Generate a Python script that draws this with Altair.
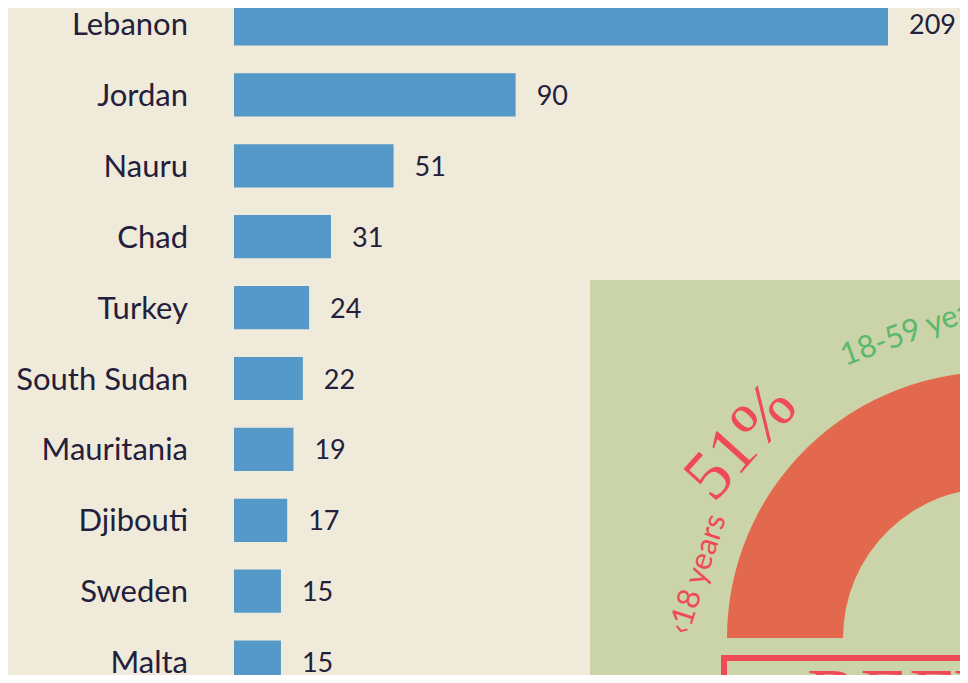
import altair as alt
import pandas as pd

# ---- data ----
countries = ["Lebanon", "Jordan", "Nauru", "Chad", "Turkey",
             "South Sudan", "Mauritania", "Djibouti", "Sweden", "Malta"]
refugees = [209, 90, 51, 31, 24, 22, 19, 17, 15, 15]

age_groups = ["‹18 years"]
age_shares = [51]
age_share_label = ["51%"]
second_group_label = ["18-59 years"]
headline = ["REFUGEES"]

# ---- styling ----
W, H = 952, 667
BG = "#F0EADB"
BAR = "#5499C8"
INK = "#22203A"
PANEL = "#CBD4A9"
ARC = "#E3694E"
RED = "#EE4B57"
GREEN = "#5CB86D"

bars_df = pd.DataFrame({"country": countries, "value": refugees})

x_scale = alt.Scale(domain=[0, 209], range=[226, 880], nice=False, zero=True)
y_scale = alt.Scale(domain=countries, range=[-19.45, 689.55],
                    paddingInner=0.39, paddingOuter=0.195)

base = alt.Chart(bars_df)

bars = base.mark_bar(color=BAR).encode(
    x=alt.X("value:Q", scale=x_scale, axis=None),
    y=alt.Y("country:N", scale=y_scale, axis=None, sort=countries),
)

names = base.mark_text(align="right", baseline="middle", font="Lato",
                       fontSize=31, color=INK, dy=2).encode(
    x=alt.value(180),
    y=alt.Y("country:N", scale=y_scale, axis=None, sort=countries),
    text="country:N",
)

vals = base.mark_text(align="left", baseline="middle", font="Lato",
                      fontSize=27, color=INK, dx=21, dy=2).encode(
    x=alt.X("value:Q", scale=x_scale, axis=None),
    y=alt.Y("country:N", scale=y_scale, axis=None, sort=countries),
    text="value:Q",
)

panel = alt.Chart(alt.Data(values=[{}])).mark_rect(color=PANEL).encode(
    x=alt.value(582), x2=alt.value(1000), y=alt.value(272), y2=alt.value(720)
)

age_df = pd.DataFrame({"group": age_groups, "share": age_shares})
arc = alt.Chart(age_df).mark_arc(color=ARC, radius=266, radius2=150).encode(
    theta=alt.Theta("share:Q", stack=True,
                    scale=alt.Scale(domain=[0, 100], range=[4.71239, 7.85398])),
    x=alt.value(985), y=alt.value(630),
)

lbl_young = alt.Chart(age_df).mark_text(
    align="left", baseline="alphabetic", font="Lato", fontSize=31,
    color=RED, angle=288).encode(
    x=alt.value(680), y=alt.value(628), text="group:N")

lbl_pct = alt.Chart(pd.DataFrame({"t": age_share_label})).mark_text(
    align="center", baseline="middle", font="Liberation Serif", fontSize=70,
    color=RED, angle=312).encode(
    x=alt.value(733), y=alt.value(434), text="t:N")

lbl_mid = alt.Chart(pd.DataFrame({"t": second_group_label})).mark_text(
    align="left", baseline="alphabetic", font="Lato", fontSize=31,
    color=GREEN, angle=340).encode(
    x=alt.value(837), y=alt.value(358), text="t:N")

box = alt.Chart(alt.Data(values=[{}])).mark_rect(
    fill="transparent", stroke=RED, strokeWidth=6).encode(
    x=alt.value(716), x2=alt.value(1100), y=alt.value(650), y2=alt.value(900))

head = alt.Chart(pd.DataFrame({"t": headline})).mark_text(
    align="left", baseline="alphabetic", font="Liberation Serif", fontSize=80,
    color=RED).encode(
    x=alt.value(799), y=alt.value(716), text="t:N")

chart = alt.layer(bars, names, vals, panel, arc, lbl_young, lbl_pct,
                  lbl_mid, box, head).properties(
    width=W, height=H, background=BG, padding=0, autosize="none"
).configure_view(strokeWidth=0)

chart.save("out.html", embed_options={"renderer": "svg", "actions": False})
